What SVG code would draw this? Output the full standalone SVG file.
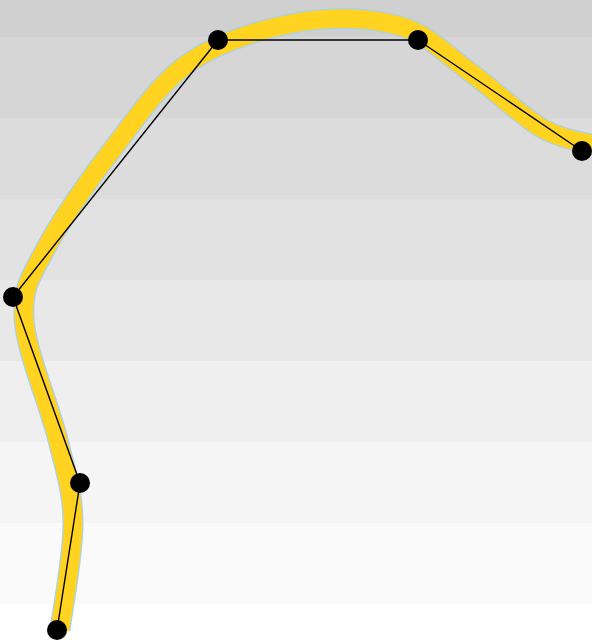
<svg xmlns="http://www.w3.org/2000/svg" width="592" height="640" viewBox="0 0 592 640">
  <style>
    .band { stroke: none; }
    .curve-outline { fill: none; stroke: #a8d2f0; stroke-width: 21; stroke-linecap: butt; stroke-linejoin: round; }
    .curve-fill { fill: none; stroke: #ffd320; stroke-width: 18.5; stroke-linecap: butt; stroke-linejoin: round; }
    .edge { fill: none; stroke: #000000; stroke-width: 1.4; }
    .dot { fill: #000000; }
  </style>
  <g id="background">
    <rect class="band" x="0" y="0" width="592" height="37" fill="#d0d0d0"/>
    <rect class="band" x="0" y="37" width="592" height="81" fill="#d6d6d6"/>
    <rect class="band" x="0" y="118" width="592" height="81" fill="#dcdcdc"/>
    <rect class="band" x="0" y="199" width="592" height="81" fill="#e2e2e2"/>
    <rect class="band" x="0" y="280" width="592" height="81" fill="#e8e8e8"/>
    <rect class="band" x="0" y="361" width="592" height="81" fill="#efefef"/>
    <rect class="band" x="0" y="442" width="592" height="81" fill="#f5f5f5"/>
    <rect class="band" x="0" y="523" width="592" height="81" fill="#fafafa"/>
    <rect class="band" x="0" y="604" width="592" height="36" fill="#ffffff"/>
  </g>
  <g id="curve">
    <path id="curve-outline" class="curve-outline" d="M60,630 C62.2,612.2 73.3,554.7 73,523 C72.7,491.3 66.3,474.2 58,440 C49.7,405.8 25.3,349.7 24,318 C22.7,286.3 30.2,278 45,250 C59.8,222 87.7,181.3 112,150 C136.3,118.7 158.7,83.3 190,62 C221.3,40.7 265,28 300,22 C335,16 371.7,17.7 400,26 C428.3,34.3 446.7,55.2 470,72 C493.3,88.8 519.7,114.8 540,127 C560.3,139.2 583.3,142 600,146"/>
    <path id="curve-fill" class="curve-fill" d="M60,630 C62.2,612.2 73.3,554.7 73,523 C72.7,491.3 66.3,474.2 58,440 C49.7,405.8 25.3,349.7 24,318 C22.7,286.3 30.2,278 45,250 C59.8,222 87.7,181.3 112,150 C136.3,118.7 158.7,83.3 190,62 C221.3,40.7 265,28 300,22 C335,16 371.7,17.7 400,26 C428.3,34.3 446.7,55.2 470,72 C493.3,88.8 519.7,114.8 540,127 C560.3,139.2 583.3,142 600,146"/>
  </g>
  <g id="connectors">
    <line class="edge" x1="57" y1="630" x2="80" y2="483"/>
    <line class="edge" x1="80" y1="483" x2="13" y2="297"/>
    <line class="edge" x1="13" y1="297" x2="218" y2="40"/>
    <line class="edge" x1="218" y1="40" x2="418" y2="40"/>
    <line class="edge" x1="418" y1="40" x2="582" y2="151"/>
  </g>
  <g id="node1"><circle class="dot" cx="57" cy="630" r="10"/></g>
  <g id="node2"><circle class="dot" cx="80" cy="483" r="10"/></g>
  <g id="node3"><circle class="dot" cx="13" cy="297" r="10"/></g>
  <g id="node4"><circle class="dot" cx="218" cy="40" r="10"/></g>
  <g id="node5"><circle class="dot" cx="418" cy="40" r="10"/></g>
  <g id="node6"><circle class="dot" cx="582" cy="151" r="10"/></g>
</svg>
